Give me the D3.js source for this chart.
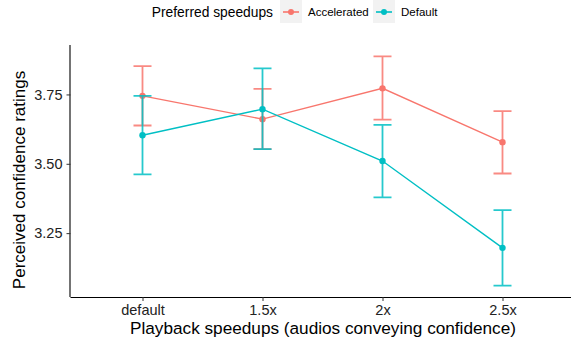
<!DOCTYPE html>
<html><head><meta charset="utf-8">
<script src="https://cdn.jsdelivr.net/npm/d3@7"></script>
<style>body{margin:0;background:#fff;} svg{display:block;font-family:"Liberation Sans",Arial,sans-serif;}</style>
</head><body>
<svg id="c" width="571" height="343"></svg>
<script>
const categories = ["default", "1.5x", "2x", "2.5x"];
const seriesNames = ["Accelerated", "Default"];
const seriesColors = ["#F8766D", "#00BFC4"];
const accelMean = [3.745, 3.661, 3.772, 3.578];
const accelLow  = [3.638, 3.553, 3.659, 3.465];
const accelHigh = [3.852, 3.770, 3.887, 3.690];
const defMean = [3.603, 3.697, 3.510, 3.197];
const defLow  = [3.462, 3.553, 3.379, 3.061];
const defHigh = [3.745, 3.844, 3.640, 3.333];
const yTicks = [3.25, 3.50, 3.75];

const series = [
  {name: seriesNames[0], color: seriesColors[0], mean: accelMean, low: accelLow, high: accelHigh},
  {name: seriesNames[1], color: seriesColors[1], mean: defMean, low: defLow, high: defHigh}
];

const svg = d3.select("#c");
const mLeft = 70.5, mBottom = 297, mTop = 45;
const x = d3.scalePoint().domain(categories).range([mLeft, 574.5]).padding(0.6);
const allLow = d3.min([...accelLow, ...defLow]), allHigh = d3.max([...accelHigh, ...defHigh]);
const pad = (allHigh - allLow) * 0.05;
const y = d3.scaleLinear().domain([allLow - pad, allHigh + pad]).range([mBottom, mTop]);

// axes
const xAxis = svg.append("g").attr("transform", `translate(0,${mBottom})`)
  .call(d3.axisBottom(x).tickSize(4).tickPadding(4));
xAxis.select(".domain").attr("d", `M${mLeft},0.5H571`).attr("stroke", "#000").attr("stroke-width", 1.1);
xAxis.selectAll(".tick line").attr("stroke", "#333");
xAxis.selectAll(".tick text").attr("font-size", 14.5).attr("fill", "#222").attr("font-family", "Liberation Sans, Arial, sans-serif");

const yAxis = svg.append("g").attr("transform", `translate(${mLeft},0)`)
  .call(d3.axisLeft(y).tickValues(yTicks).tickFormat(d3.format(".2f")).tickSize(4).tickPadding(4));
yAxis.select(".domain").attr("d", `M-0.5,${mTop}V${mBottom}`).attr("stroke", "#000").attr("stroke-width", 1.1);
yAxis.selectAll(".tick line").attr("stroke", "#333");
yAxis.selectAll(".tick text").attr("font-size", 14.5).attr("fill", "#222").attr("font-family", "Liberation Sans, Arial, sans-serif");

// titles
svg.append("text").attr("x", 323).attr("y", 334).attr("text-anchor", "middle")
  .attr("font-size", 17.2).attr("fill", "#000").text("Playback speedups (audios conveying confidence)");
svg.append("text").attr("transform", `translate(25,180) rotate(-90)`).attr("text-anchor", "middle")
  .attr("font-size", 17).attr("fill", "#000").text("Perceived confidence ratings");

// data
const capHalf = 9;
series.forEach(s => {
  const g = svg.append("g");
  const line = d3.line().x((d, i) => x(categories[i])).y(d => y(d));
  g.append("path").datum(s.mean).attr("d", line).attr("fill", "none")
    .attr("stroke", s.color).attr("stroke-width", 1.4);
  categories.forEach((c, i) => {
    const cx = x(c);
    g.append("path")
      .attr("d", `M${cx - capHalf},${y(s.high[i])}H${cx + capHalf}M${cx},${y(s.high[i])}V${y(s.low[i])}M${cx - capHalf},${y(s.low[i])}H${cx + capHalf}`)
      .attr("fill", "none").attr("stroke", s.color).attr("stroke-width", 1.8).attr("opacity", 0.85);
    g.append("circle").attr("cx", cx).attr("cy", y(s.mean[i])).attr("r", 3.2).attr("fill", s.color);
  });
});

// legend
const lg = svg.append("g");
lg.append("text").attr("x", 273).attr("y", 17).attr("text-anchor", "end").attr("font-size", 13.8).attr("fill", "#000").text("Preferred speedups");
const legX = [280, 373];
series.forEach((s, i) => {
  const kx = legX[i];
  lg.append("rect").attr("x", kx).attr("y", 0).attr("width", 22).attr("height", 23).attr("fill", "#F2F2F2");
  lg.append("line").attr("x1", kx + 3).attr("x2", kx + 19).attr("y1", 12).attr("y2", 12)
    .attr("stroke", s.color).attr("stroke-width", 1.6);
  lg.append("circle").attr("cx", kx + 11).attr("cy", 12).attr("r", 3).attr("fill", s.color);
  lg.append("text").attr("x", kx + 28).attr("y", 16).attr("font-size", 11.5).attr("fill", "#000").text(s.name);
});
</script>
</body></html>
